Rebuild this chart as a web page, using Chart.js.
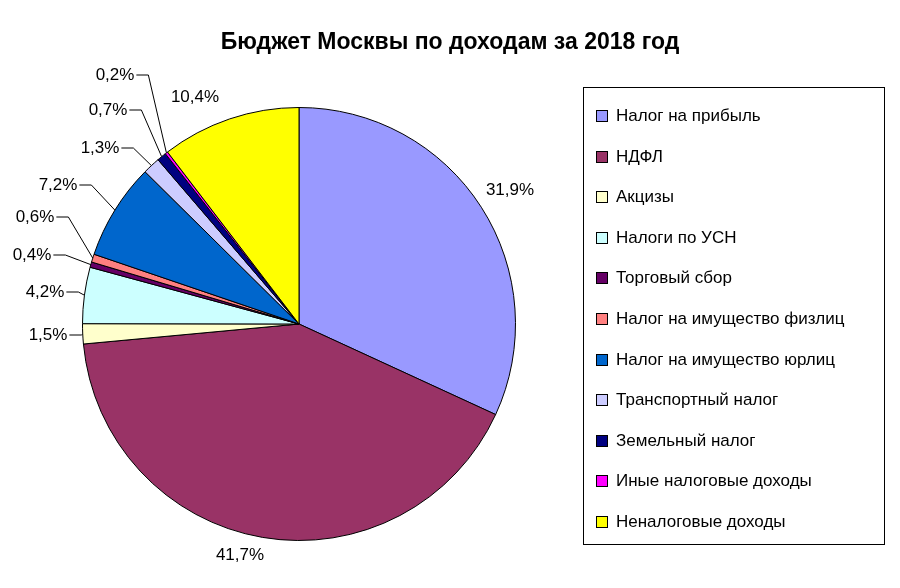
<!DOCTYPE html>
<html><head><meta charset="utf-8">
<script src="https://cdn.jsdelivr.net/npm/chart.js@4"></script>
<style>
body{margin:0;background:#fff;font-family:"Liberation Sans",Arial,sans-serif;}
#wrap{position:relative;width:900px;height:588px;}
#title{position:absolute;left:0;width:900px;top:28px;text-align:center;font-weight:bold;font-size:23px;}
#legend{position:absolute;left:583px;top:87px;width:302px;height:458px;border:1px solid #000;box-sizing:border-box;}
.li{position:absolute;left:12px;font-size:17px;display:flex;align-items:center;white-space:nowrap;}
.sw{width:10px;height:10px;border:1px solid #000;margin-right:8px;}
</style></head><body>
<div id="wrap">
<canvas id="c" width="900" height="588" style="position:absolute;left:0;top:0"></canvas>
<div id="title">Бюджет Москвы по доходам за 2018 год</div>
<div id="legend"></div>
</div>
<script>
const categories=["Налог на прибыль","НДФЛ","Акцизы","Налоги по УСН","Торговый сбор","Налог на имущество физлиц","Налог на имущество юрлиц","Транспортный налог","Земельный налог","Иные налоговые доходы","Неналоговые доходы"];
const values=[31.9,41.7,1.5,4.2,0.4,0.6,7.2,1.3,0.7,0.2,10.4];
const colors=["#9999FF","#993366","#FFFFCC","#CCFFFF","#660066","#FF8080","#0066CC","#CCCCFF","#000080","#FF00FF","#FFFF00"];
// label layout: [x,y,leader]
const labelLayout=[[510,190,0],[240,555,0],[48,335,1],[45,292,1],[32,255,1],[35,217,1],[58,185,1],[100,148,1],[108,110,1],[115,75,1],[195,97,0]];
const lg=document.getElementById('legend');
categories.forEach((c,i)=>{const d=document.createElement('div');d.className='li';d.style.top=(18+i*40.6)+'px';
d.innerHTML='<span class="sw" style="background:'+colors[i]+'"></span>'+c;lg.appendChild(d);});
const labelsPlugin={id:'lbl',afterDatasetsDraw(ch){const ctx=ch.ctx;const meta=ch.getDatasetMeta(0);
ctx.save();ctx.font='17px "Liberation Sans",Arial,sans-serif';ctx.fillStyle='#000';ctx.strokeStyle='#000';ctx.lineWidth=1;
meta.data.forEach((a,i)=>{const t=values[i].toFixed(1).replace('.',',')+'%';const [x,y,l]=labelLayout[i];
ctx.textAlign='center';ctx.textBaseline='middle';ctx.fillText(t,x,y);
if(l){const w=ctx.measureText(t).width;const m=(a.startAngle+a.endAngle)/2;
const px=a.x+Math.cos(m)*a.outerRadius,py=a.y+Math.sin(m)*a.outerRadius;
ctx.beginPath();ctx.moveTo(x+w/2+2,y);ctx.lineTo(x+w/2+14,y);ctx.lineTo(px,py);ctx.stroke();}});
ctx.restore();}};
new Chart(document.getElementById('c'),{type:'pie',
data:{labels:categories,datasets:[{data:values,backgroundColor:colors,borderColor:'#000',borderWidth:1}]},
options:{responsive:false,animation:false,layout:{padding:{left:82,right:384,top:107,bottom:47}},
plugins:{legend:{display:false},tooltip:{enabled:false}}},plugins:[labelsPlugin]});
</script></body></html>
